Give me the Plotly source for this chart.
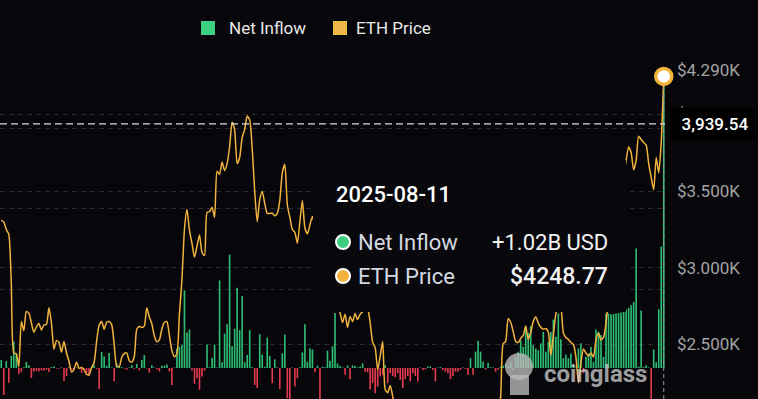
import plotly.graph_objects as go
import pandas as pd

# ---------------- data ----------------
net_inflow_musd = [
    28, -94, 24, -52, 42, 92, 50, -21, -14, 3,
    21, 10, -35, -12, -10, -12, -8, -10, -6, -14,
    3, 5, -2, -3, 2, -45, -28, 3, -4, -8,
    2, -3, -17, -5, -17, -28, 4, 10, -3, -73,
    56, 40, 8, 52, 2, -46, 17, 6, 3, -2,
    -6, 2, 10, -3, 14, -8, 28, 45, -2, -17,
    10, 2, -4, -12, 8, 8, 12, -12, -59, 2,
    68, 74, 80, 271, 124, 134, -9, -55, -36, -76,
    -30, -9, 82, 3, 36, 82, 2, 305, 20, 120,
    153, 396, 76, 137, 280, 132, 251, 20, 45, 132,
    3, -59, -70, 118, 47, 4, 106, 42, -53, 30,
    2, -73, 51, 117, -105, -130, 2, -65, -36, 3,
    54, 153, 22, 68, 65, -15, 8, -120, 4, 3,
    60, 25, 76, 192, 16, 7, 2, -24, 9, -39,
    9, 7, 2, 5, 16, -13, -15, -74, -53, -88,
    -65, -30, -24, 10, -53, -18, -28, -32, -18, -42,
    -70, -39, -28, -47, -18, -28, -47, 2, -7, -5,
    5, 5, -7, -47, 2, 3, -7, -13, -18, -39,
    -28, -13, -13, -7, 2, -3, -24, 34, -24, 57,
    95, 57, 22, -5, 18, 3, 2, -13, -6, 4,
    8, 15, 6, 22, -8, 40, 57, 97, 74, 146,
    123, 146, 80, 68, 62, 86, 126, 57, 91, 126,
    169, 109, 190, 100, 34, 47, 34, 51, 10, 3,
    68, 86, -18, 39, 51, 74, 22, 134, 126, 115,
    39, 190, 190, 188, 188, 190, 192, 194, 199, 204,
    210, 219, 230, 417, 5, 201, 3, 10, 2, -150,
    65, 20, 205, 424, 1020,
]

eth_price = [
    3310, 3300, 3250, 3220, 2900, 2445, 2440, 2355, 2650, 2590,
    2715, 2705, 2640, 2580, 2615, 2637, 2595, 2628, 2630, 2740,
    2640, 2470, 2525, 2515, 2450, 2520, 2445, 2390, 2320, 2340,
    2385, 2345, 2350, 2335, 2305, 2305, 2348, 2383, 2520, 2625,
    2650, 2600, 2645, 2650, 2630, 2500, 2360, 2355, 2415, 2440,
    2445, 2395, 2385, 2420, 2600, 2618, 2611, 2620, 2740, 2680,
    2635, 2555, 2518, 2530, 2600, 2645, 2650, 2560, 2460, 2420,
    2440, 2700, 2920, 3250, 3380, 3245, 3160, 3070, 3140, 3215,
    3100, 3080, 3362, 3367, 3395, 3330, 3630, 3610, 3690, 3635,
    3680, 3790, 3950, 3900, 3680, 3720, 3850, 3902, 3990, 3965,
    3780, 3500, 3300, 3445, 3498, 3420, 3355, 3355, 3356, 3340,
    3355, 3440, 3620, 3675, 3410, 3330, 3250, 3232, 3160, 3300,
    3440, 3260, 3222, 3280, 3335, 3280, 3350, 3420, 3300, 3200,
    3100, 3150, 3050, 2900, 2780, 2710, 2643, 2697, 2611, 2683,
    2650, 2702, 2663, 2697, 2715, 2760, 2740, 2643, 2515, 2480,
    2337, 2422, 2520, 2206, 2186, 2232, 2160, 2050, 1930, 1890,
    1920, 1880, 1810, 1790, 1830, 1760, 1590, 1570, 1620, 1560,
    1480, 1590, 1600, 1640, 1580, 1760, 1800, 1790, 1800, 1840,
    1810, 1830, 1800, 1850, 1900, 1880, 1950, 2000, 1960, 2020,
    2050, 2000, 1980, 2040, 2080, 2020, 1990, 2030, 2060, 2160,
    2505, 2520, 2670, 2645, 2585, 2520, 2513, 2540, 2560, 2620,
    2533, 2578, 2650, 2680, 2640, 2612, 2600, 2604, 2580, 2430,
    2560, 2700, 2760, 2740, 2575, 2546, 2533, 2513, 2500, 2420,
    2250, 2380, 2470, 2445, 2425, 2445, 2418, 2530, 2575, 2530,
    2546, 2640, 2800, 2950, 3100, 3250, 3400, 3500, 3600, 3700,
    3789, 3752, 3640, 3700, 3858, 3837, 3817, 3800, 3680, 3590,
    3510, 3720, 3620, 3820, 4248.77,
]

dates = [d.strftime("%Y-%m-%d") for d in pd.bdate_range(end="2025-08-11", periods=len(net_inflow_musd))]

price_tick_values = [2500, 3000, 3500, 4000, 4290]
price_tick_labels = ["$2.500K", "$3.000K", "$3.500K", "$4.000K", "$4.290K"]
inflow_grid_values = [275, 555, 835]

hover_date = "2025-08-11"
hover_inflow_text = "+1.02B USD"
hover_price_text = "$4248.77"
crosshair_price = 3939.54
crosshair_label = "3,939.54"
legend_names = ["Net Inflow", "ETH Price"]
watermark = "coinglass"

# ---------------- style ----------------
BG = "#07070b"
GREEN = "#2ebd73"
GREEN_L = "#3dcf80"
RED = "#e33a4f"
YELLOW = "#f2b33d"
GRID = "#2a2a30"
FONT = "Roboto"

W, H = 758, 399
PL, PR, PT, PB = 0, 93, 70, 0
PW = W - PL - PR
PH = H - PT - PB


def fx(px):
    return (px - PL) / PW


def fy(py):
    return (H - PB - py) / PH


n = len(net_inflow_musd)
bar_colors = [GREEN if v >= 0 else RED for v in net_inflow_musd]

fig = go.Figure()
fig.add_trace(go.Bar(
    x=dates, y=net_inflow_musd, marker=dict(color=bar_colors, line=dict(width=0)),
    yaxis="y", name=legend_names[0], hoverinfo="skip",
))
fig.add_trace(go.Scatter(
    x=dates, y=eth_price, mode="lines", yaxis="y2", name=legend_names[1],
    line=dict(color=YELLOW, width=1.5, shape="spline", smoothing=0.6), hoverinfo="skip",
))
fig.add_trace(go.Scatter(
    x=[dates[-1]], y=[eth_price[-1]], mode="markers", yaxis="y2", showlegend=False,
    marker=dict(size=16, color="#ffffff", line=dict(color=YELLOW, width=3.5)),
    cliponaxis=False, hoverinfo="skip",
))

shapes = []
# crosshair vertical
shapes.append(dict(type="line", xref="x", yref="paper", x0=n - 1, x1=n - 1,
                   y0=0, y1=fy(84), line=dict(color="#9a9a9a", width=1, dash="4px,3px"), layer="above"))
# crosshair horizontal
shapes.append(dict(type="line", xref="paper", yref="y2", x0=0, x1=1,
                   y0=crosshair_price, y1=crosshair_price,
                   line=dict(color="#dcdcdc", width=1.2, dash="7px,4px"), layer="above"))
# tooltip panel
shapes.append(dict(type="rect", xref="paper", yref="paper", x0=fx(313), x1=fx(626),
                   y0=fy(312), y1=fy(160), fillcolor="#09090d", line=dict(width=0), layer="above"))
# tooltip dots
for cy, col in [(242, GREEN_L), (276, YELLOW)]:
    shapes.append(dict(type="circle", xref="paper", yref="paper", x0=fx(336), x1=fx(350),
                       y0=fy(cy + 7), y1=fy(cy - 7), fillcolor=col,
                       line=dict(color="#ffffff", width=2), layer="above"))
# legend squares
shapes.append(dict(type="rect", xref="paper", yref="paper", x0=fx(201), x1=fx(215),
                   y0=fy(35), y1=fy(21), fillcolor=GREEN_L, line=dict(width=0)))
shapes.append(dict(type="rect", xref="paper", yref="paper", x0=fx(333), x1=fx(347),
                   y0=fy(35), y1=fy(21), fillcolor="#f0b84a", line=dict(width=0)))
# watermark logo
shapes.append(dict(type="circle", xref="paper", yref="paper", x0=fx(505), x1=fx(533),
                   y0=fy(380), y1=fy(353), fillcolor="rgba(185,185,185,0.8)", line=dict(width=0), layer="above"))
shapes.append(dict(type="rect", xref="paper", yref="paper", x0=fx(510), x1=fx(529),
                   y0=fy(395), y1=fy(375), fillcolor="rgba(185,185,185,0.8)", line=dict(width=0), layer="above"))

annotations = []


def ann(text, x, y, size, color, xanchor="left", weight=400, **kw):
    d = dict(text=text, xref="paper", yref="paper", x=fx(x), y=fy(y), xanchor=xanchor,
             yanchor="middle", showarrow=False,
             font=dict(family=FONT, size=size, color=color, weight=weight))
    d.update(kw)
    annotations.append(d)


ann(legend_names[0], 227, 28, 17, "#e8e8e8")
ann(legend_names[1], 354, 28, 17, "#e8e8e8")
ann(hover_date, 334, 194, 22, "#ffffff", weight=500)
ann(legend_names[0], 356, 242, 22, "#d4d8e0")
ann(legend_names[1], 356, 276, 22, "#d4d8e0")
ann(hover_inflow_text, 610, 242, 22, "#f2f2f2", xanchor="right")
ann(hover_price_text, 610, 276, 23, "#f2f2f2", xanchor="right", weight=500)
ann(watermark, 595, 374, 24, "rgba(200,200,200,0.78)", xanchor="center", weight=700)
annotations.append(dict(text=crosshair_label, xref="paper", yref="y2", x=fx(670), y=crosshair_price,
                        xanchor="left", yanchor="middle", showarrow=False, bgcolor="#000000",
                        width=88, height=31, borderpad=0, align="center",
                        font=dict(family=FONT, size=17, color="#ffffff", weight=500)))

fig.update_layout(
    width=W, height=H, margin=dict(l=PL, r=PR, t=PT, b=PB, pad=0),
    paper_bgcolor=BG, plot_bgcolor=BG, showlegend=False, bargap=0.35,
    xaxis=dict(type="category", range=[-0.5, n - 0.5], visible=False, fixedrange=True),
    yaxis=dict(range=[-108.2, 1040], tickvals=inflow_grid_values, showticklabels=False,
               showgrid=True, gridcolor=GRID, griddash="5px,4px", gridwidth=1,
               zeroline=False, showline=False, ticks=""),
    yaxis2=dict(range=[2144.6, 4290.5], overlaying="y", side="right",
                tickvals=price_tick_values, ticktext=price_tick_labels,
                showgrid=True, gridcolor=GRID, griddash="5px,4px", gridwidth=1,
                zeroline=False, showline=False, ticks="", ticklabelstandoff=11,
                tickfont=dict(family=FONT, size=17, color="#a3a3a3")),
    shapes=shapes, annotations=annotations,
)

page_fix = (
    "document.documentElement.style.margin='0';"
    "document.body.style.margin='0';document.body.style.padding='0';"
    "document.body.style.overflow='hidden';"
    "document.body.style.background='" + BG + "';"
)

fig.write_html("out.html", post_script=page_fix,
               config={"displayModeBar": False, "staticPlot": True})
